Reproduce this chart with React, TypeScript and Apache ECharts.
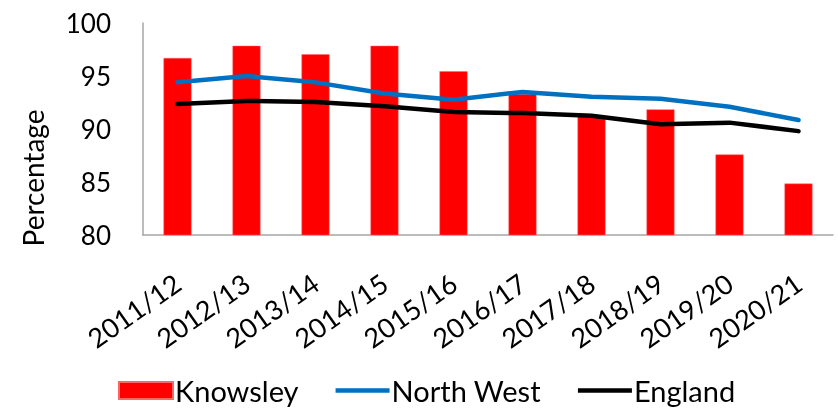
import React, { useEffect, useRef } from "react";
import * as echarts from "echarts";

const categories = ["2011/12", "2012/13", "2013/14", "2014/15", "2015/16", "2016/17", "2017/18", "2018/19", "2019/20", "2020/21"];
const knowsley = [96.7, 97.85, 97.05, 97.85, 95.45, 93.3, 91.2, 91.85, 87.6, 84.85];
const northWest = [94.4, 95.0, 94.4, 93.35, 92.75, 93.5, 93.05, 92.85, 92.1, 90.85];
const england = [92.35, 92.65, 92.55, 92.15, 91.6, 91.5, 91.25, 90.45, 90.6, 89.8];
const yTicks = { min: 80, max: 100, interval: 5 };

const FONT = "Lato";
const LINE_ICON = "path://M0,0 L54,0 L54,4.5 L0,4.5 Z";

export default function App() {
  const ref = useRef<HTMLDivElement>(null);
  useEffect(() => {
    if (!ref.current) return;
    const chart = echarts.init(ref.current, null, { renderer: "svg" });
    chart.setOption({
      animation: false,
      textStyle: { fontFamily: FONT, color: "#000" },
      grid: { left: 143, right: 5, top: 23, bottom: 174 },
      legend: {
        left: 118,
        top: 376,
        padding: 0,
        itemWidth: 54,
        itemHeight: 17,
        itemGap: 37,
        symbolKeepAspect: true,
        textStyle: { fontFamily: FONT, fontSize: 29, lineHeight: 28, color: "#000", padding: [0, 0, 0, -3] },
        data: [
          { name: "Knowsley", icon: "rect" },
          { name: "North West", icon: LINE_ICON },
          { name: "England", icon: LINE_ICON },
        ],
      },
      graphic: [
        {
          type: "text",
          x: 33,
          y: 178,
          rotation: Math.PI / 2,
          style: {
            text: "Percentage",
            fontFamily: FONT,
            fontSize: 28,
            fill: "#000",
            align: "center",
            verticalAlign: "middle",
          },
        },
      ],
      xAxis: {
        type: "category",
        data: categories,
        axisTick: { show: false },
        axisLine: { lineStyle: { color: "#A6A6A6", width: 1.5 } },
        axisLabel: {
          interval: 0,
          rotate: 35,
          margin: 45,
          fontFamily: FONT,
          fontSize: 27,
          color: "#000",
        },
      },
      yAxis: {
        type: "value",
        min: yTicks.min,
        max: yTicks.max,
        interval: yTicks.interval,
        splitLine: { show: false },
        axisTick: { show: false },
        axisLine: { show: true, lineStyle: { color: "#A6A6A6", width: 1.5 } },
        axisLabel: { margin: 32, fontFamily: FONT, fontSize: 26, color: "#000" },
      },
      series: [
        {
          name: "Knowsley",
          type: "bar",
          data: knowsley,
          barWidth: 28,
          itemStyle: { color: "#FF0000", borderColor: "#FF6666", borderWidth: 0.5 },
        },
        {
          name: "North West",
          type: "line",
          data: northWest,
          symbol: "none",
          lineStyle: { color: "#0070C0", width: 4.5, cap: "round", join: "round" },
          itemStyle: { color: "#0070C0" },
        },
        {
          name: "England",
          type: "line",
          data: england,
          symbol: "none",
          lineStyle: { color: "#000000", width: 4.5, cap: "round", join: "round" },
          itemStyle: { color: "#000000" },
        },
      ],
    });
    return () => chart.dispose();
  }, []);
  return <div ref={ref} style={{ position: "fixed", left: 0, top: 0, width: 838, height: 409 }} />;
}
